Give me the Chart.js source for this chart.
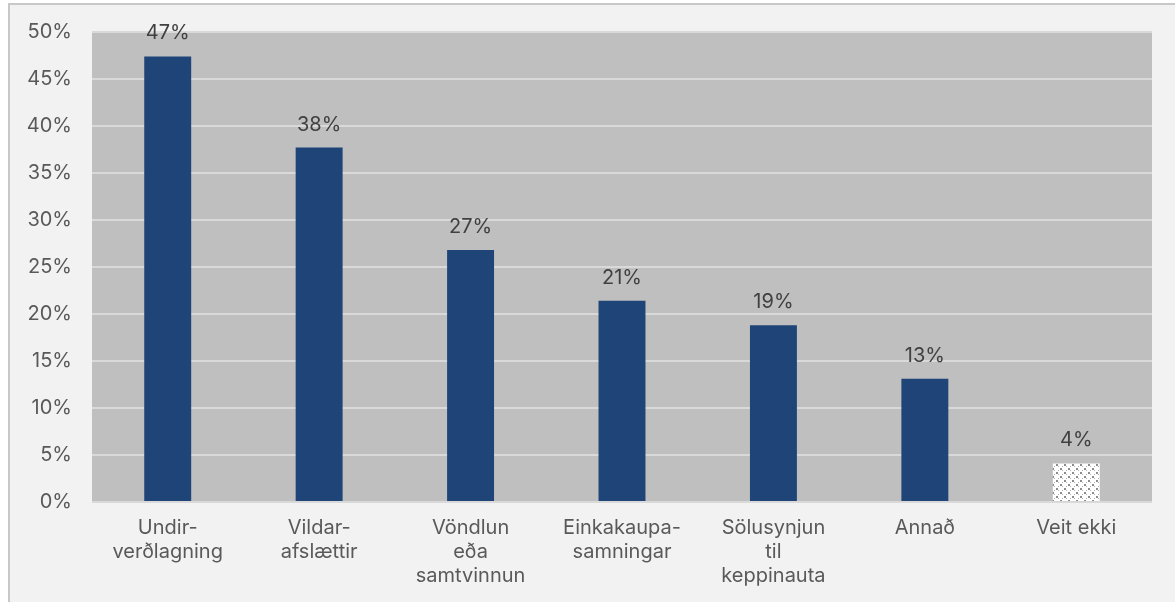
<!DOCTYPE html>
<html>
<head>
<meta charset="utf-8">
<script src="https://cdn.jsdelivr.net/npm/chart.js@4"></script>
<style>
    html, body { margin: 0; padding: 0; background: #ffffff; overflow: hidden; }
    #frame {
        position: absolute; left: 8px; top: 3px; width: 1200px; height: 650px;
        background: #f2f2f2; border: 2px solid #c8c8c8; box-sizing: border-box;
    }
    #wrap { position: absolute; left: 0; top: 0; width: 1175px; height: 602px; }
</style>
</head>
<body>
<div id="frame"></div>
<div id="wrap"><canvas id="chart" width="1175" height="602"></canvas></div>
<script>
// Survey: forms of abuse of dominance (share of answers)
const categories = [
    ['Undir-', 'verðlagning'],
    ['Vildar-', 'afslættir'],
    ['Vöndlun', 'eða', 'samtvinnun'],
    ['Einkakaupa-', 'samningar'],
    ['Sölusynjun', 'til', 'keppinauta'],
    'Annað',
    'Veit ekki'
];
const shares = [47.4, 37.7, 26.8, 21.4, 18.8, 13.1, 4.1];
const shareLabels = ['47%', '38%', '27%', '21%', '19%', '13%', '4%'];
const yTicks = [0, 5, 10, 15, 20, 25, 30, 35, 40, 45, 50];

const FONT = 'Inter, "Noto Sans", sans-serif';

// checkered fill used for the "Veit ekki" bar
function makePattern() {
    const c = document.createElement('canvas');
    c.width = 8;
    c.height = 8;
    const p = c.getContext('2d');
    p.fillStyle = '#ffffff';
    p.fillRect(0, 0, 8, 8);
    p.fillStyle = '#8c8c8c';
    p.fillRect(0, 0, 2, 2);
    p.fillRect(4, 4, 2, 2);
    p.fillStyle = '#b5b5b5';
    p.fillRect(2, 2, 1, 1);
    p.fillRect(6, 6, 1, 1);
    p.fillRect(2, 6, 1, 1);
    p.fillRect(6, 2, 1, 1);
    return p.createPattern(c, 'repeat');
}

const ctx = document.getElementById('chart').getContext('2d');
const barColors = shares.map((v, i) => i === shares.length - 1 ? makePattern() : '#1f4478');

const plotBackground = {
    id: 'plotBackground',
    beforeDraw(chart) {
        const a = chart.chartArea;
        const c = chart.ctx;
        c.save();
        c.fillStyle = '#bfbfbf';
        c.fillRect(a.left, a.top, a.right - a.left, a.bottom - a.top);
        c.restore();
    }
};

const valueLabels = {
    id: 'valueLabels',
    afterDatasetsDraw(chart) {
        const c = chart.ctx;
        const meta = chart.getDatasetMeta(0);
        c.save();
        c.font = '20px ' + FONT;
        c.fillStyle = '#404040';
        c.textAlign = 'center';
        c.textBaseline = 'middle';
        meta.data.forEach((bar, i) => {
            c.fillText(shareLabels[i], bar.x, bar.y - 23);
        });
        c.restore();
    }
};

new Chart(ctx, {
    type: 'bar',
    data: {
        labels: categories,
        datasets: [{
            data: shares,
            backgroundColor: barColors,
            borderWidth: 0,
            barPercentage: 0.31,
            categoryPercentage: 1
        }]
    },
    options: {
        responsive: false,
        animation: false,
        layout: { padding: { top: 32, right: 23, bottom: 0, left: 0 } },
        plugins: {
            legend: { display: false },
            tooltip: { enabled: false }
        },
        scales: {
            x: {
                grid: { display: false, drawTicks: false },
                border: { display: false },
                ticks: {
                    color: '#595959',
                    font: { family: FONT, size: 20, lineHeight: 1.2 },
                    padding: 14,
                    maxRotation: 0,
                    autoSkip: false
                },
                afterFit(scale) { scale.height = 100; }
            },
            y: {
                min: 0,
                max: 50,
                afterBuildTicks(scale) { scale.ticks = yTicks.map(v => ({ value: v })); },
                grid: { color: '#d9d9d9', lineWidth: 2, drawTicks: false },
                border: { display: false },
                ticks: {
                    color: '#595959',
                    font: { family: FONT, size: 20 },
                    padding: 20,
                    callback: v => v + '%'
                },
                afterFit(scale) { scale.width = 92; }
            }
        }
    },
    plugins: [plotBackground, valueLabels]
});
</script>
</body>
</html>
